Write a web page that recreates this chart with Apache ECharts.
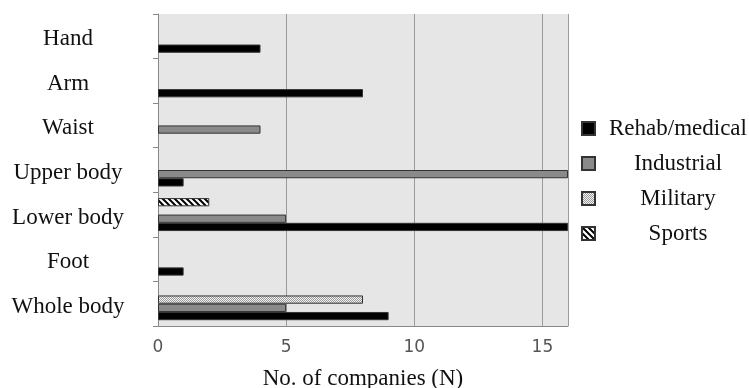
<!DOCTYPE html>
<html>
<head>
<meta charset="utf-8">
<script src="https://cdn.jsdelivr.net/npm/echarts@6/dist/echarts.min.js"></script>
<style>html,body{margin:0;padding:0;background:#fff;}#c{width:749px;height:388px;}</style>
</head>
<body>
<div id="c"></div>
<script>
const categories = ['Whole body', 'Foot', 'Lower body', 'Upper body', 'Waist', 'Arm', 'Hand'];
const rehabMedical = [9, 1, 16, 1, 0, 8, 4];
const industrial = [5, 0, 5, 16, 4, 0, 0];
const military = [8, 0, 0, 0, 0, 0, 0];
const sports = [0, 0, 2, 0, 0, 0, 0];
const seriesNames = ['Rehab/medical', 'Industrial', 'Military', 'Sports'];
const xTicks = [0, 5, 10, 15];

function stripes() {
  const c = document.createElement('canvas'); c.width = 6; c.height = 6;
  const g = c.getContext('2d');
  g.fillStyle = '#fff'; g.fillRect(0, 0, 6, 6);
  g.strokeStyle = '#000'; g.lineWidth = 2;
  g.beginPath();
  g.moveTo(-1, -1); g.lineTo(7, 7);
  g.moveTo(-4, 2); g.lineTo(4, 10);
  g.moveTo(2, -4); g.lineTo(10, 4);
  g.stroke();
  return c;
}
function dots() {
  const c = document.createElement('canvas'); c.width = 2; c.height = 2;
  const g = c.getContext('2d');
  g.fillStyle = '#f4f4f4'; g.fillRect(0, 0, 2, 2);
  g.fillStyle = '#9a9a9a'; g.fillRect(0, 0, 1, 1); g.fillRect(1, 1, 1, 1);
  return c;
}
const colors = [
  '#000000',
  '#8a8a8a',
  { image: dots(), repeat: 'repeat' },
  { image: stripes(), repeat: 'repeat' }
];
const values = [rehabMedical, industrial, military, sports];
const serif = 'Liberation Serif';

// ECharts places the first series at the top of each band; the reference has Rehab at the bottom
const order = [3, 2, 1, 0];

const chart = echarts.init(document.getElementById('c'), null, { renderer: 'canvas' });
chart.setOption({
  animation: false,
  grid: { left: 158, right: 181, top: 14, bottom: 62, show: true, backgroundColor: '#e6e6e6', borderWidth: 0,
    containLabel: false, outerBoundsMode: 'none' },
  legend: {
    orient: 'vertical', left: 576, top: 112,
    itemWidth: 13, itemHeight: 13, itemGap: 12, icon: 'rect',
    data: seriesNames,
    formatter: name => '{c|' + name + '}',
    textStyle: { rich: { c: { width: 156, align: 'center', fontFamily: serif, fontSize: 23, lineHeight: 22, color: '#111' } } }
  },
  xAxis: {
    type: 'value', min: 0, max: 16, interval: 5,
    name: 'No. of companies (N)', nameLocation: 'middle', nameGap: 41,
    nameTextStyle: { fontFamily: serif, fontSize: 23, color: '#111' },
    axisLine: { show: true, lineStyle: { color: '#888' } },
    axisTick: { show: false },
    axisLabel: { margin: 13, fontFamily: 'DejaVu Sans', fontSize: 17, color: '#555',
      formatter: v => xTicks.includes(v) ? String(v) : '' },
    splitLine: { show: true, lineStyle: { color: '#9a9a9a', width: 1 } }
  },
  yAxis: {
    type: 'category', data: categories,
    axisLine: { show: true, lineStyle: { color: '#888' } },
    axisTick: { show: true, length: 5, lineStyle: { color: '#888' } },
    axisLabel: { margin: 90, align: 'center', verticalAlign: 'top', lineHeight: 6,
      fontFamily: serif, fontSize: 23, color: '#111' },
    splitLine: { show: false }
  },
  series: order.map(i => ({
    name: seriesNames[i], type: 'bar', data: values[i].map(v => v === 0 ? null : v),
    barGap: '0%', barCategoryGap: '26%',
    itemStyle: { color: colors[i], borderColor: '#333', borderWidth: 1 }
  }))
});
</script>
</body>
</html>
